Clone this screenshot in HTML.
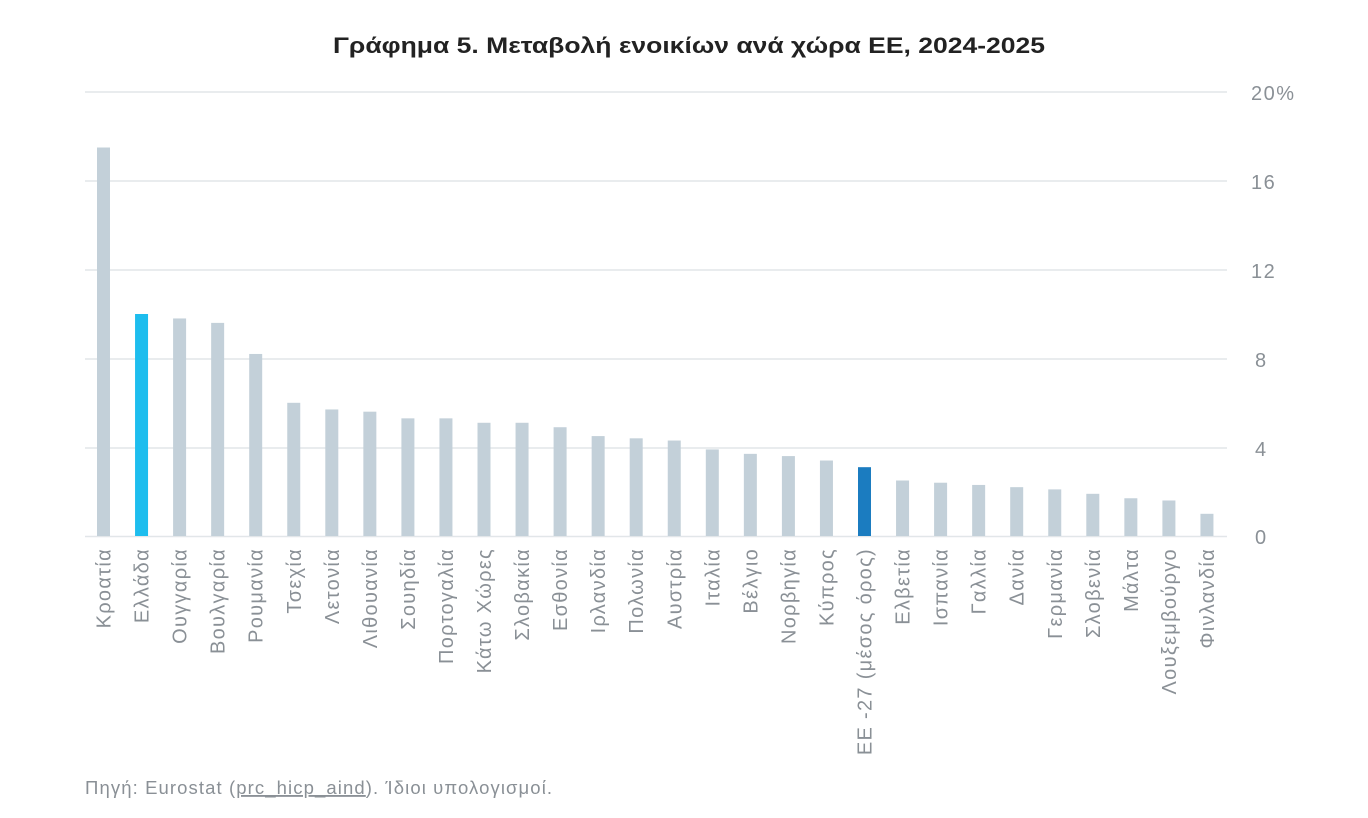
<!DOCTYPE html>
<html><head><meta charset="utf-8"><style>
html,body{margin:0;padding:0;background:#fff;}
svg{display:block;}
text{font-family:"Liberation Sans","DejaVu Sans",sans-serif;}
</style></head><body>
<svg width="1368" height="818" viewBox="0 0 1368 818" xmlns="http://www.w3.org/2000/svg">
<rect width="1368" height="818" fill="#fff"/>
<text x="689" y="53" text-anchor="middle" font-size="22" font-weight="bold" fill="#222" textLength="712" lengthAdjust="spacingAndGlyphs">Γράφημα 5. Μεταβολή ενοικίων ανά χώρα ΕΕ, 2024-2025</text>
<g stroke="#e2e6e9" stroke-width="1.5">
<line x1="85" y1="92" x2="1227" y2="92"/>
<line x1="85" y1="181" x2="1227" y2="181"/>
<line x1="85" y1="270" x2="1227" y2="270"/>
<line x1="85" y1="359" x2="1227" y2="359"/>
<line x1="85" y1="448" x2="1227" y2="448"/>
<line x1="85" y1="536.5" x2="1227" y2="536.5"/>
</g>
<g font-size="20" fill="#8a9096" letter-spacing="1.5">
<text x="1251" y="100">20%</text>
<text x="1251" y="189">16</text>
<text x="1251" y="278">12</text>
<text x="1255" y="367">8</text>
<text x="1255" y="456">4</text>
<text x="1255" y="544">0</text>
</g>
<g id="bars"></g>
<g id="labels" font-size="20" fill="#8a9096" letter-spacing="1.3"></g>
<text x="85" y="794" font-size="18.5" letter-spacing="1.1" fill="#8a9096">Πηγή: Eurostat (<tspan text-decoration="underline">prc_hicp_aind</tspan>). Ίδιοι υπολογισμοί.</text>
<script>
var d=[["Κροατία",17.5],["Ελλάδα",10],["Ουγγαρία",9.8],["Βουλγαρία",9.6],["Ρουμανία",8.2],["Τσεχία",6.0],["Λετονία",5.7],["Λιθουανία",5.6],["Σουηδία",5.3],["Πορτογαλία",5.3],["Κάτω Χώρες",5.1],["Σλοβακία",5.1],["Εσθονία",4.9],["Ιρλανδία",4.5],["Πολωνία",4.4],["Αυστρία",4.3],["Ιταλία",3.9],["Βέλγιο",3.7],["Νορβηγία",3.6],["Κύπρος",3.4],["ΕΕ -27 (μέσος όρος)",3.1],["Ελβετία",2.5],["Ισπανία",2.4],["Γαλλία",2.3],["Δανία",2.2],["Γερμανία",2.1],["Σλοβενία",1.9],["Μάλτα",1.7],["Λουξεμβούργο",1.6],["Φινλανδία",1.0]];
var ns="http://www.w3.org/2000/svg",b=document.getElementById("bars"),l=document.getElementById("labels");
d.forEach(function(e,i){var cx=103.5+i*38.05;var h=e[1]*22.2;
var r=document.createElementNS(ns,"rect");r.setAttribute("x",cx-6.5);r.setAttribute("y",536-h);r.setAttribute("width",13);r.setAttribute("height",h);
r.setAttribute("fill",i==1?"#1dbdee":(i==20?"#1b7cc0":"#c3d0d9"));b.appendChild(r);
var t=document.createElementNS(ns,"text");var x=cx+7,y=548;t.setAttribute("x",x);t.setAttribute("y",y);t.setAttribute("text-anchor","end");t.setAttribute("transform","rotate(-90 "+x+" "+y+")");t.textContent=e[0];l.appendChild(t);});
</script>
</svg>
</body></html>
